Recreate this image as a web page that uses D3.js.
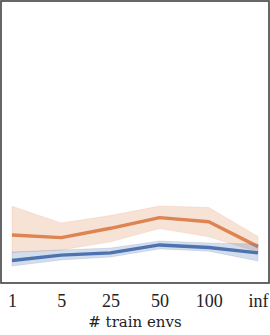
<!DOCTYPE html>
<html><head><meta charset="utf-8">
<script src="https://cdn.jsdelivr.net/npm/d3@7"></script>
<style>html,body{margin:0;padding:0;background:#fff;}svg{display:block;}</style>
</head><body>
<svg id="c" width="270" height="335"></svg>
<script>
const categories = ["1", "5", "25", "50", "100", "inf"];
const orangeMean  = [0.170, 0.161, 0.194, 0.232, 0.217, 0.129];
const orangeLower = [0.108, 0.117, 0.146, 0.193, 0.164, 0.110];
const orangeUpper = [0.272, 0.213, 0.239, 0.273, 0.268, 0.165];
const blueMean  = [0.080, 0.099, 0.107, 0.135, 0.126, 0.107];
const blueLower = [0.060, 0.082, 0.092, 0.121, 0.113, 0.078];
const blueUpper = [0.110, 0.117, 0.124, 0.149, 0.142, 0.138];
const xLabel = "# train envs";

(function () {
const svg = d3.select("#c");
const mLeft = 1, mRight = 269, mTop = 1, mBottom = 283;
const x = d3.scalePoint().domain(categories).range([12, 258]).padding(0);
const y = d3.scaleLinear().domain([0, 1]).range([mBottom, mTop]);

function drawSeries(mean, lo, hi, color) {
  const area = d3.area().x((d, i) => x(categories[i])).y0((d, i) => y(lo[i])).y1((d, i) => y(hi[i]));
  svg.append("path").attr("d", area(mean)).attr("fill", color).attr("fill-opacity", 0.24).attr("stroke", color).attr("stroke-opacity", 0.15).attr("stroke-width", 1);
  const line = d3.line().x((d, i) => x(categories[i])).y(d => y(d));
  svg.append("path").attr("d", line(mean)).attr("fill", "none").attr("stroke", color).attr("stroke-width", 3.4).attr("stroke-linejoin", "round");
}
drawSeries(orangeMean, orangeLower, orangeUpper, "#dd8452");
drawSeries(blueMean, blueLower, blueUpper, "#4c72b0");

svg.append("rect").attr("x", mLeft).attr("y", mTop).attr("width", mRight - mLeft).attr("height", mBottom - mTop)
  .attr("fill", "none").attr("stroke", "#4d4d4d").attr("stroke-width", 1.7);

const ax = svg.append("g").attr("transform", `translate(0,${mBottom})`)
  .call(d3.axisBottom(x).tickSize(0).tickPadding(0));
ax.select(".domain").remove();
ax.selectAll("text").attr("dy", null).attr("y", 23.7).attr("font-family", "'Liberation Serif', serif").attr("font-size", 18).attr("fill", "#222");

svg.append("text").attr("x", 135).attr("y", 326.5).attr("text-anchor", "middle")
  .attr("font-family", "'DejaVu Serif', serif").attr("font-size", 15).attr("fill", "#222").text(xLabel);
})();
</script>
</body></html>
